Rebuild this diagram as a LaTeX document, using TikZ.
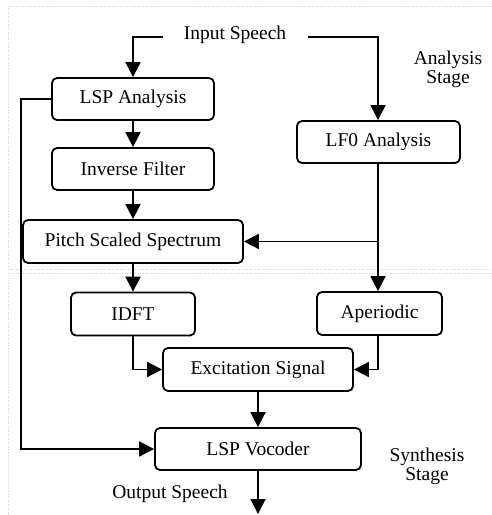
\documentclass[tikz,border=0pt]{standalone}
\usepackage{fontspec}
\setmainfont{Liberation Serif}
\usetikzlibrary{arrows.meta}
\begin{document}
\begin{tikzpicture}[x=1pt,y=-1pt,
  box/.style={draw, line width=1.8pt, rounded corners=5pt, inner sep=0pt, font=\fontsize{19.5}{22}\selectfont},
  lbl/.style={inner sep=0pt, font=\fontsize{19.5}{22}\selectfont, align=center},
  conn/.style={line width=1.8pt, -{Triangle[length=15pt,width=15pt]}},
  plain/.style={line width=1.8pt},
  frame/.style={draw=black!18, line width=0.6pt, dotted}]
\useasboundingbox (0,0) rectangle (492,515);
% frames
\draw[frame] (492,6) -- (8,6) -- (8,268);
\draw[frame] (8,269) -- (492,269);
\draw[frame] (8,515) -- (8,273) -- (492,273);
% nodes
\node[lbl] (in) at (235,35) {Input Speech};
\node[lbl] (ast) at (448,69) {Analysis\\[-3pt]Stage};
\node[lbl] (sst) at (427,466) {Synthesis\\[-3pt]Stage};
\node[lbl] (out) at (170,494) {Output Speech};
\node[box, minimum width=162pt, minimum height=42pt] (lsp) at (133,99) {LSP Analysis};
\node[box, minimum width=163pt, minimum height=42pt] (lf0) at (378.5,142) {LF0 Analysis};
\node[box, minimum width=162pt, minimum height=42pt] (inv) at (133,169) {Inverse Filter};
\node[box, minimum width=220pt, minimum height=43pt] (pss) at (133,241.5) {Pitch Scaled Spectrum};
\node[box, minimum width=124pt, minimum height=43pt] (idft) at (133,314) {IDFT};
\node[box, minimum width=125pt, minimum height=43pt] (ape) at (379.5,313.5) {Aperiodic};
\node[box, minimum width=190pt, minimum height=43pt] (exc) at (258,369.5) {Excitation Signal};
\node[box, minimum width=206pt, minimum height=42pt] (voc) at (258,449) {LSP Vocoder};
\coordinate (outend) at (258,514);
\coordinate (split) at (378,241.5);
% connectors
\draw[conn] (163,37) -| (lsp.north);
\draw[conn] (308,37) -| (lf0.north -| 378,0);
\draw[conn] (lsp) -- (inv);
\draw[conn] (inv) -- (pss);
\draw[conn] (pss) -- (idft);
\draw[plain] (lf0.south -| split) -- (split);
\draw[conn] (split) -- (pss.east);
\draw[conn] (split) -- (ape.north -| split);
\draw[conn] (idft.south) |- (exc.west);
\draw[conn] (ape.south -| split) |- (exc.east);
\draw[conn] (exc) -- (voc);
\draw[conn] (lsp.west) -| (21,300) |- (voc.west);
\draw[conn] (voc.south) -- (outend);
\end{tikzpicture}
\end{document}
